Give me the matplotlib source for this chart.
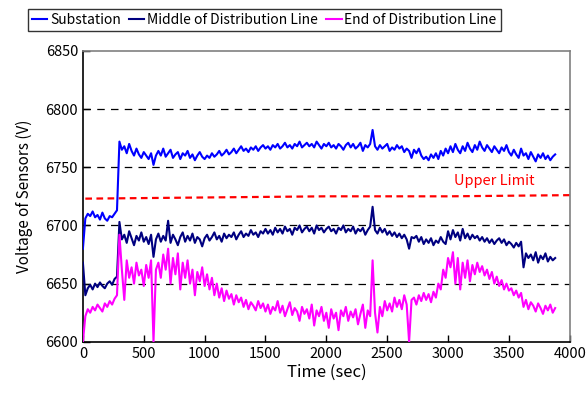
import numpy as np
import matplotlib
matplotlib.use('Agg')
import matplotlib.pyplot as plt

plt.rcParams['font.family'] = ['Noto Sans CJK JP', 'DejaVu Sans']

# sampling grid (sec)
t = np.arange(0, 3881, 20)

substation = [
    6680,
    6706, 6710, 6708, 6712, 6707, 6709, 6705, 6711, 6706, 6704, 6708, 6707, 6710, 6713,
    6772,
    6765, 6768, 6762, 6770, 6764, 6760, 6766, 6761, 6758, 6763, 6760, 6757, 6762, 6752, 6760,
    6764, 6760, 6766, 6759, 6762, 6765, 6758, 6761, 6763, 6757, 6762, 6760, 6764, 6758, 6761,
    6756, 6760, 6763, 6759, 6757,
    6760, 6758, 6762, 6759, 6761, 6764, 6760, 6762, 6765, 6761, 6763, 6766, 6762, 6765, 6768,
    6764, 6766, 6763, 6767, 6765, 6768, 6764, 6767, 6769, 6766,
    6768, 6765, 6769, 6767, 6770, 6766, 6768, 6771, 6767, 6769, 6766, 6770, 6768, 6772, 6767,
    6769, 6771, 6768, 6770, 6767, 6772, 6769, 6766, 6770, 6768,
    6771, 6767, 6769, 6766, 6770, 6768, 6765, 6769, 6771, 6767, 6770, 6766, 6768, 6771, 6764,
    6769, 6767, 6770,
    6782,
    6768, 6765, 6769, 6766, 6768, 6770, 6764, 6767, 6765, 6769, 6766, 6768, 6763, 6766, 6764,
    6758,
    6765, 6762, 6766, 6760, 6757, 6759, 6756, 6761, 6758, 6762, 6757, 6764, 6760, 6766, 6762,
    6768, 6763, 6770, 6765, 6762, 6768, 6764, 6771, 6766, 6763, 6769, 6765, 6772, 6767, 6764,
    6769, 6766, 6763, 6768, 6765, 6762, 6767, 6764, 6769, 6763,
    6760, 6765, 6761, 6758, 6766, 6760, 6762, 6757, 6763, 6759, 6755, 6761, 6758, 6762, 6757,
    6760, 6756, 6759, 6761,
]

middle = [
    6668,
    6640, 6646, 6649, 6645, 6650, 6647, 6651, 6648, 6646, 6650, 6652, 6649, 6654, 6656,
    6703,
    6688, 6692, 6685, 6695, 6689, 6683, 6691, 6687, 6694, 6686, 6690, 6684, 6692, 6673, 6688,
    6693, 6686, 6691, 6687, 6704, 6685, 6692, 6688, 6683, 6690, 6694, 6686, 6691, 6687, 6693,
    6685, 6690, 6688, 6682, 6689,
    6692, 6687, 6690, 6694, 6688, 6691, 6686, 6693, 6689, 6692, 6690, 6694, 6688, 6692, 6695,
    6690, 6693, 6691, 6696, 6692, 6694, 6690, 6695, 6693, 6697,
    6693, 6696, 6692, 6698, 6694, 6697, 6693, 6699, 6695, 6697, 6692, 6698, 6696, 6700, 6694,
    6697, 6699, 6695, 6698, 6693, 6700, 6696, 6698, 6694, 6697,
    6699, 6695, 6697, 6693, 6698, 6696, 6700, 6694, 6697, 6695, 6699, 6693, 6697, 6695, 6698,
    6692, 6696, 6699,
    6716,
    6696, 6693, 6698, 6694, 6697, 6692, 6695, 6691, 6694, 6690, 6693, 6689, 6692, 6688, 6680,
    6690,
    6689, 6691, 6686, 6690, 6684, 6688, 6685, 6689, 6683, 6687, 6685, 6690, 6686, 6684, 6695,
    6688, 6696, 6690, 6694, 6687, 6697, 6689, 6693, 6688, 6692, 6689, 6691, 6687, 6690, 6686,
    6689, 6685, 6688, 6684, 6687, 6689, 6685, 6688, 6683, 6686,
    6684, 6681, 6685, 6682, 6686, 6664, 6676, 6672, 6675, 6670, 6677, 6668, 6674, 6671, 6676,
    6669, 6673, 6670, 6672,
]

end = [
    6600,
    6622, 6628, 6625, 6630, 6627, 6632, 6629, 6626, 6633, 6630, 6635, 6632, 6637, 6640,
    6692,
    6662, 6636, 6670, 6655, 6664, 6650, 6668, 6657, 6662, 6648, 6666, 6655, 6670, 6600, 6662,
    6668, 6655, 6675, 6662, 6680, 6650, 6672, 6658, 6676, 6645, 6668, 6655, 6670, 6650, 6662,
    6640, 6660, 6652, 6664, 6648,
    6658, 6645, 6655, 6640, 6650, 6638, 6646, 6635, 6644, 6637, 6641, 6632, 6640, 6634, 6638,
    6630, 6636, 6628, 6634, 6631, 6627, 6635, 6629, 6633, 6626,
    6632, 6624, 6630, 6627, 6635, 6625, 6631, 6622, 6628, 6634, 6623, 6629, 6626, 6618, 6630,
    6624, 6628, 6620, 6632, 6614, 6627, 6622, 6630, 6618, 6625,
    6612, 6628, 6620, 6625, 6610, 6627, 6622, 6630, 6618, 6626, 6621, 6628, 6615, 6624, 6632,
    6612, 6627, 6622,
    6670,
    6625, 6608, 6630, 6622, 6635, 6627, 6633, 6626, 6638, 6630, 6636, 6628, 6640, 6632, 6600,
    6636,
    6638, 6632, 6640, 6635, 6642, 6636, 6641, 6634, 6643, 6638, 6650, 6645, 6662, 6655, 6672,
    6664, 6677, 6650, 6672, 6645, 6668, 6655, 6670, 6652, 6666, 6658, 6668, 6660, 6665, 6657,
    6662, 6654, 6660, 6650, 6656, 6648, 6653, 6645, 6650, 6644,
    6646, 6640, 6644, 6638, 6642, 6630, 6636, 6628, 6634, 6631, 6626, 6633, 6629, 6624, 6631,
    6627, 6632, 6625, 6629,
]

limit_t = [20, 1000, 2000, 3000, 4000]
limit_v = [6723, 6724, 6725, 6725, 6726]

fig = plt.figure(figsize=(5.88, 3.97), dpi=100)
ax = fig.add_axes([0.141, 0.139, 0.828, 0.733])

for y in [6650, 6700, 6750, 6800]:
    ax.axhline(y, color='black', lw=0.9, ls=(0, (6, 5)), zorder=1)

ax.plot(limit_t, limit_v, color='#FF0000', lw=1.6, ls=(0, (3, 2)), zorder=2)
ax.text(3050, 6738, 'Upper Limit', color='#FF0000', fontsize=10.5, va='center')

ax.plot(t, substation, color='#0000FF', lw=1.5, label='Substation', zorder=3)
ax.plot(t, middle, color='#000080', lw=1.5, label='Middle of Distribution Line', zorder=3)
ax.plot(t, end, color='#FF00FF', lw=1.5, label='End of Distribution Line', zorder=3)

ax.set_xlim(0, 4000)
ax.set_ylim(6600, 6850)
ax.set_xticks(range(0, 4001, 500))
ax.set_yticks(range(6600, 6851, 50))
ax.tick_params(direction='in', labelsize=10.5, length=5, width=1)
ax.set_xlabel('Time (sec)', fontsize=12, labelpad=2)
ax.set_ylabel('Voltage of Sensors (V)', fontsize=11, labelpad=9)

for s in ['left', 'bottom']:
    ax.spines[s].set_color('black')
    ax.spines[s].set_linewidth(1.2)
for s in ['top', 'right']:
    ax.spines[s].set_color('#808080')
    ax.spines[s].set_linewidth(1.2)

leg = fig.legend(loc='upper left', bbox_to_anchor=(0.047, 0.978), ncol=3,
                 fontsize=10, handlelength=1.1, handletextpad=0.2,
                 columnspacing=0.6, borderpad=0.3, frameon=True, fancybox=False,
                 borderaxespad=0)
leg.get_frame().set_edgecolor('black')
leg.get_frame().set_linewidth(1.0)

fig.savefig('out.png', dpi=100)
